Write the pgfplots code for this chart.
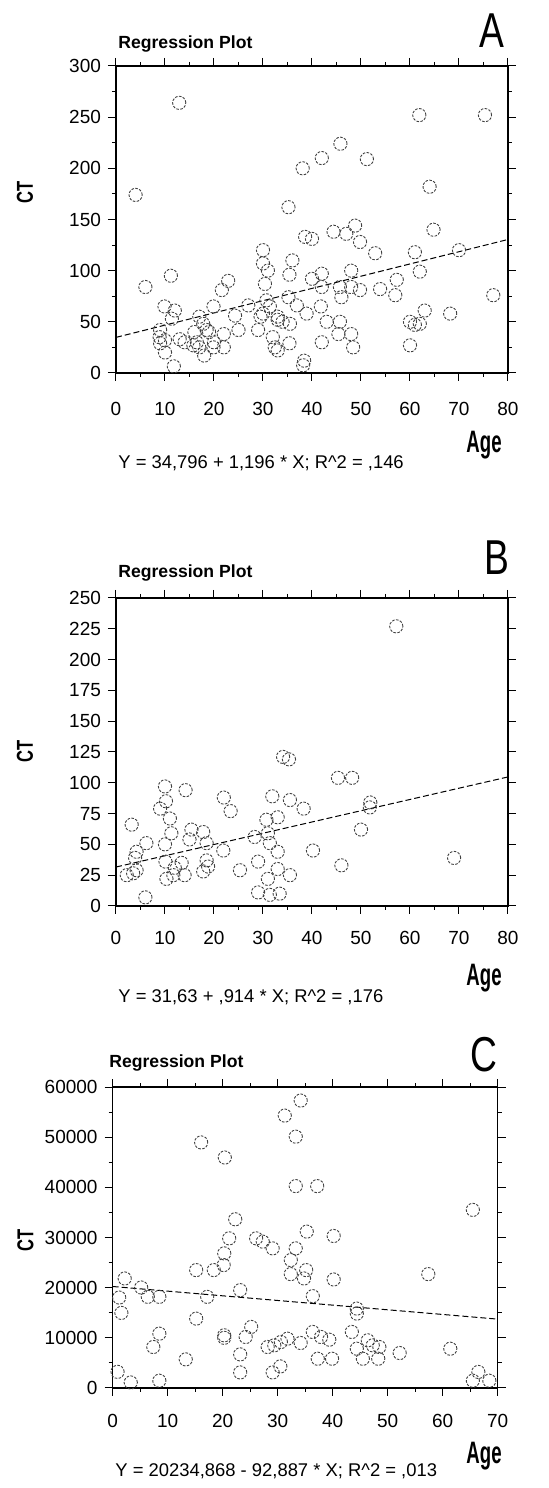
\documentclass[border=0pt]{standalone}
\usepackage{pgfplots}
\pgfplotsset{compat=1.18}
\usepackage{fontspec}
\setmainfont{Liberation Sans}
\newfontfamily\letterfont[FakeStretch=0.76]{Liberation Sans}
\newfontfamily\agefont[FakeStretch=0.6]{Liberation Sans}
\newfontfamily\ctfont[FakeStretch=0.72]{Liberation Sans}
\pgfplotsset{
  regstyle/.style={
    scale only axis, anchor=south west,
    tick align=outside,
    major tick length=4pt, minor tick length=2pt,
    every tick/.style={black, line width=0.5pt},
    axis line style={line width=0.6pt},
    tick label style={font=\fontsize{9.5}{10}\selectfont},
    /pgf/number format/assume math mode=true,
    /pgf/number format/set thousands separator={},
    scaled ticks=false,
    minor x tick num=1,
  },
  pts/.style={only marks, mark=o, mark size=3.3pt,
    mark options={line width=0.45pt, dash pattern=on 1.3pt off 0.7pt, draw=black!75}},
  reg/.style={no marks, black, line width=0.5pt, dash pattern=on 3pt off 1.5pt},
}
\begin{document}
\begin{tikzpicture}[x=1pt,y=1pt]
\path (0,0) rectangle (274,744);

% ---------------- Panel A ----------------
\begin{axis}[regstyle, at={(58pt,557.5pt)}, width=196pt, height=153.5pt,
  xmin=0, xmax=80, ymin=0, ymax=300,
  xtick={0,10,...,80}, ytick={0,50,...,300}, minor y tick num=1,
  xticklabel style={yshift=-7pt}]
\addplot[pts] coordinates {
(4,174) (6,84) (11.2,95) (9.9,65) (12,61) (9,42) (8.9,35) (10,32) (9,29) (10,20)
(11.8,6.5) (11.4,53) (14,30) (16.5,30) (17,55) (17.8,48) (18.5,42) (15.8,27) (17,25) (18,17)
(19.9,25) (22,25) (22,38) (19.9,65) (21.6,81) (22.9,90) (24.3,56) (25,42) (27,66) (29,42)
(30,120) (30,107) (30.4,87) (31,100) (30,58) (30.7,71) (31.4,65) (32.4,25) (33,52) (35.2,162)
(36,110) (35.4,96) (35.2,74) (35.5,48) (35.4,29) (36.9,66) (38.4,12) (38.2,7.5) (38.6,133) (40,131)
(38.9,58) (40,92) (42,97) (42,84) (41.8,65) (42,30) (43,50) (44.4,138) (45.7,84) (46,74)
(45.7,50) (45.4,38) (47,136) (48.8,144) (49.8,128) (48,100) (48,84) (49.8,81) (48,38) (48.4,25)
(52.9,117) (53.9,82) (57.3,91) (57,76) (60,50) (61,47) (60,27) (62,48) (61,118) (62,99)
(63,61) (64.8,140) (68.2,58) (70,120) (77,76) (12.9,264) (61.9,252) (75.3,252) (45.8,224) (42,210)
(38.1,200) (51.2,209) (64,182) (13,33) (19,40) (20,30) (16,40) (33,55) (34,50) (32,35) (29.5,55) (33,22)
};
\addplot[reg] coordinates {(0,34.796) (80,130.476)};
\end{axis}
\node[anchor=base west, inner sep=0pt, font=\bfseries\fontsize{8.8}{10}\selectfont] at (59pt,719.5pt) {Regression Plot};
\node[anchor=base east, inner sep=0pt, font=\letterfont\fontsize{24.5}{26}\selectfont] at (252.5pt,720pt) {A};
\node[rotate=90, inner sep=0pt, font=\ctfont\bfseries\fontsize{11.5}{13}\selectfont] at (12.5pt,648pt) {CT};
\node[anchor=base east, inner sep=0pt, font=\agefont\bfseries\fontsize{15.5}{17}\selectfont] at (251pt,517.5pt) {Age};
\node[anchor=base west, inner sep=0pt, font=\fontsize{9.2}{11}\selectfont] at (59pt,509.5pt) {Y = 34,796 + 1,196 * X; R\^{}2 = ,146};

% ---------------- Panel B ----------------
\begin{axis}[regstyle, at={(58pt,291pt)}, width=196pt, height=154pt,
  xmin=0, xmax=80, ymin=0, ymax=250,
  xtick={0,10,...,80}, ytick={0,25,...,250},
  xticklabel style={yshift=-5pt}]
\addplot[pts] coordinates {
(3.2,66) (2.2,25) (3.5,26.5) (4.2,29) (3.9,39) (4.2,44) (6.2,51) (6,7)
(9,79) (10.2,85) (10,97) (11,71) (11.3,59) (10,50) (10.1,36) (10.3,22) (11.7,25) (12,31) (13.4,35) (14,25) (14.2,94)
(15.4,62) (15,54) (17.8,60) (18.5,51) (17.8,28) (18.8,32) (18.5,37)
(22,88) (23.4,77) (21.9,45) (25.3,29)
(28.3,56) (29,36) (29,11) (30.7,70) (31,59) (31.4,51) (31.9,89) (33,72) (33,44) (33,30) (31,22) (31.4,9) (33.4,10)
(35.5,25) (35.5,86) (34.1,121) (35.3,119) (38.3,79) (40.2,45)
(45.3,104) (48.2,104) (46,33) (50,62) (51.9,84) (51.8,80) (57.2,227) (69,39)
};
\addplot[reg] coordinates {(0,31.63) (80,104.75)};
\end{axis}
\node[anchor=base west, inner sep=0pt, font=\bfseries\fontsize{8.8}{10}\selectfont] at (59pt,455pt) {Regression Plot};
\node[anchor=base east, inner sep=0pt, font=\letterfont\fontsize{24.5}{26}\selectfont] at (255pt,456.5pt) {B};
\node[rotate=90, inner sep=0pt, font=\ctfont\bfseries\fontsize{11.5}{13}\selectfont] at (12.5pt,368.5pt) {CT};
\node[anchor=base east, inner sep=0pt, font=\agefont\bfseries\fontsize{15.5}{17}\selectfont] at (251pt,251pt) {Age};
\node[anchor=base west, inner sep=0pt, font=\fontsize{9.2}{11}\selectfont] at (59pt,242.5pt) {Y = 31,63 + ,914 * X; R\^{}2 = ,176};

% ---------------- Panel C ----------------
\begin{axis}[regstyle, at={(56.3pt,50pt)}, width=192.5pt, height=150.5pt,
  xmin=0, xmax=70, ymin=0, ymax=60000,
  xtick={0,10,...,70}, ytick={0,10000,...,60000}, minor y tick num=1,
  xticklabel style={yshift=-5.5pt}]
\addplot[pts] coordinates {
(34.2,57300) (31.3,54300) (33.3,50100) (16.1,48950) (20.4,45940) (33.3,40240) (37.2,40240)
(65.5,35500) (22.3,33630) (21.2,29830) (20.3,26830) (20.2,24500) (18.4,23500) (15.2,23500)
(26.1,29830) (27.3,29170) (29.1,27830) (35.3,31170) (40.2,30300) (33.3,27830) (32.4,25500) (32.4,22700)
(35.2,23500) (34.8,21830) (36.4,18300) (40.2,21630) (57.4,22700) (44.4,14830) (44.4,15830)
(2.2,21830) (1.2,18030) (1.6,14970) (5.2,20030) (6.4,18170) (8.5,18170) (17.2,18170) (23.2,19500)
(15.2,13830) (8.5,10830) (7.4,8170)
(20.3,10500) (20.3,10000) (25.2,12170) (24.2,10170)
(28.2,8170) (29.4,8500) (30.6,9170) (31.8,9830) (34.2,8970) (36.4,11170) (37.9,10170) (39.4,9630) (37.3,5830) (39.9,5830)
(43.5,11170) (44.4,7830) (45.5,5830) (46.4,9500) (47.3,8500) (48.5,8170) (48.3,5830) (52.2,6970) (61.4,7830)
(0.9,3220) (3.3,1100) (8.5,1450) (23.2,3100) (30.5,4300) (29.1,3100) (65.5,1450) (66.5,3200) (68.5,1450) (13.3,5700) (23.2,6700)
};
\addplot[reg] coordinates {(0,20234.868) (70,13732.778)};
\end{axis}
\node[anchor=base west, inner sep=0pt, font=\bfseries\fontsize{8.8}{10}\selectfont] at (54.5pt,210pt) {Regression Plot};
\node[anchor=base east, inner sep=0pt, font=\letterfont\fontsize{24.5}{26}\selectfont] at (249pt,208pt) {C};
\node[rotate=90, inner sep=0pt, font=\ctfont\bfseries\fontsize{11.5}{13}\selectfont] at (12.75pt,124pt) {CT};
\node[anchor=base east, inner sep=0pt, font=\agefont\bfseries\fontsize{15.5}{17}\selectfont] at (251pt,12.5pt) {Age};
\node[anchor=base west, inner sep=0pt, font=\fontsize{9.2}{11}\selectfont] at (57.5pt,5.5pt) {Y = 20234,868 - 92,887 * X; R\^{}2 = ,013};
\end{tikzpicture}
\end{document}
